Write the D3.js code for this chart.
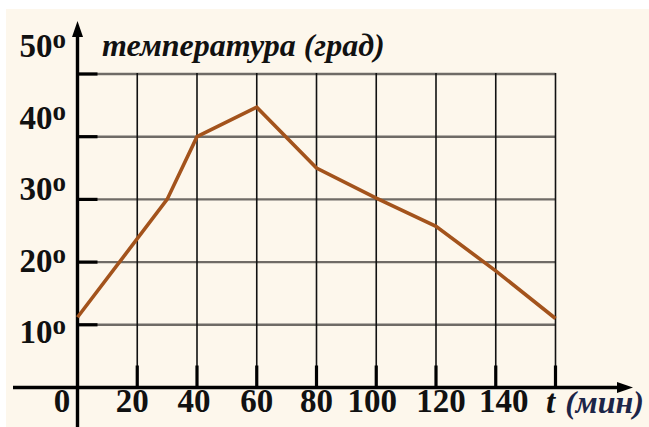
<!DOCTYPE html>
<html>
<head>
<meta charset="utf-8">
<script src="https://cdn.jsdelivr.net/npm/d3@7"></script>
<style>
  html, body { margin: 0; padding: 0; background: #ffffff; }
  svg { display: block; }
</style>
</head>
<body>
<svg id="chart" width="649" height="427"></svg>
<script>
// Temperature over time
const times = [0, 30, 40, 60, 80, 100, 120, 140, 160];
const temps = [11.2, 30, 40, 44.7, 35, 30.2, 25.7, 18.6, 11];
const xTicks = [20, 40, 60, 80, 100, 120, 140, 160];
const xTickLabels = ["20", "40", "60", "80", "100", "120", "140"];
const yTicks = [10, 20, 30, 40, 50];
const yTickLabels = ["10", "20", "30", "40", "50"];
const yTitle = "температура";
const yUnit = "(град)";
const xTitle = "t";
const xUnit = "(мин)";

const svg = d3.select("#chart");
const W = 649, H = 427;
const serif = "'Liberation Serif', 'Times New Roman', serif";

// paper background
svg.append("rect").attr("x", 6).attr("y", 9).attr("width", W - 6).attr("height", H - 9)
  .attr("fill", "#fdf7ec");

const x = d3.scaleLinear().domain([0, 160]).range([77.5, 555.5]);
const y = d3.scaleLinear().domain([0, 50]).range([387.5, 74]);
// label baselines are spaced a little wider than the grid
const yLab = d3.scaleLinear().domain([10, 50]).range([343, 57]);

const grid = svg.append("g");
// horizontal grid lines
grid.selectAll("line.h").data(yTicks).join("line")
  .attr("x1", x(0)).attr("x2", x(160))
  .attr("y1", d => y(d)).attr("y2", d => y(d))
  .attr("stroke", "#6f6b66").attr("stroke-width", 2.4);
// vertical grid lines
grid.selectAll("line.v").data(xTicks).join("line")
  .attr("x1", d => x(d)).attr("x2", d => x(d))
  .attr("y1", y(50) - 1).attr("y2", y(0))
  .attr("stroke", "#111").attr("stroke-width", 1.6);

// axis tick marks
svg.append("g").selectAll("line").data(yTicks).join("line")
  .attr("x1", x(0)).attr("x2", x(0) + 20)
  .attr("y1", d => y(d)).attr("y2", d => y(d))
  .attr("stroke", "#000").attr("stroke-width", 3.2);
svg.append("g").selectAll("line").data(xTicks).join("line")
  .attr("x1", d => x(d)).attr("x2", d => x(d))
  .attr("y1", y(0) - 22).attr("y2", y(0))
  .attr("stroke", "#000").attr("stroke-width", 3.2);

// axes with arrows
svg.append("line").attr("x1", x(0)).attr("x2", x(0)).attr("y1", H).attr("y2", 34)
  .attr("stroke", "#000").attr("stroke-width", 3.4);
svg.append("path").attr("d", `M${x(0)},21 L${x(0) - 5.5},37 L${x(0) + 5.5},37 Z`).attr("fill", "#000");
svg.append("line").attr("x1", 13).attr("x2", 620).attr("y1", y(0)).attr("y2", y(0))
  .attr("stroke", "#000").attr("stroke-width", 3.4);
svg.append("path").attr("d", `M633,${y(0)} L617,${y(0) - 5.5} L617,${y(0) + 5.5} Z`).attr("fill", "#000");

// temperature line
const pts = times.map((t, i) => [t, temps[i]]);
svg.append("path").datum(pts)
  .attr("d", d3.line().x(d => x(d[0])).y(d => y(d[1])))
  .attr("fill", "none").attr("stroke", "#a3531c").attr("stroke-width", 3.6)
  .attr("stroke-linejoin", "miter");

// y labels with raised "о"
const yl = svg.append("g").attr("font-family", serif).attr("font-weight", "bold").attr("fill", "#111");
yTicks.forEach((v, i) => {
  const t = yl.append("text").attr("x", 66).attr("y", yLab(v)).attr("text-anchor", "end")
    .attr("font-size", 33);
  t.append("tspan").text(yTickLabels[i]);
  t.append("tspan").attr("font-size", 27).attr("dy", -9).text("о");
});

// x labels
const xl = svg.append("g").attr("font-family", serif).attr("font-weight", "bold").attr("fill", "#111")
  .attr("font-size", 33).attr("text-anchor", "middle");
xl.selectAll("text").data(xTickLabels).join("text")
  .attr("x", (d, i) => x(xTicks[i]) + [-5, -3, 0, 0, -4, 5, 8][i])
  .attr("y", 412).text(d => d);
xl.append("text").attr("x", 62).attr("y", 412).text("0");

// axis titles
const tt = svg.append("text").attr("x", 102).attr("y", 56)
  .attr("font-family", serif).attr("font-weight", "bold").attr("font-style", "italic")
  .attr("font-size", 32).attr("fill", "#111");
tt.append("tspan").text(yTitle + " ");
tt.append("tspan").text(yUnit);

const xt = svg.append("text").attr("x", 546).attr("y", 413)
  .attr("font-family", serif).attr("font-weight", "bold").attr("font-style", "italic")
  .attr("font-size", 33).attr("fill", "#111");
xt.append("tspan").text(xTitle);
xt.append("tspan").attr("dx", 10).attr("font-size", 32).attr("fill", "#1c2548").text(xUnit);
</script>
</body>
</html>
